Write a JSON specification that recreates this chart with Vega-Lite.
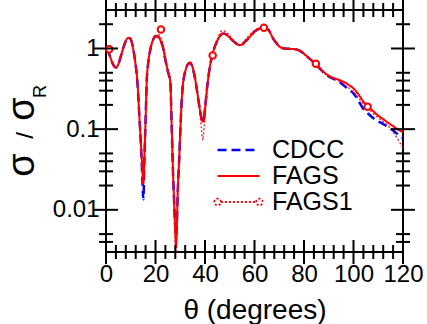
{
  "$schema": "https://vega.github.io/schema/vega-lite/v6.json",
  "width": 297,
  "height": 242,
  "autosize": "none",
  "padding": {"left": 106, "top": 10, "right": 24, "bottom": 72},
  "config": {
    "font": "Liberation Sans",
    "view": {"stroke": "black", "strokeWidth": 2},
    "axis": {"grid": false, "domain": false, "ticks": false, "labelColor": "black", "titleColor": "black", "labelFont": "Liberation Sans", "titleFont": "Liberation Sans", "titleFontWeight": "normal"}
  },
  "datasets": {
    "ticksx": [
      {"theta":0,"kind":"major"},{"theta":4,"kind":"minor"},{"theta":8,"kind":"minor"},{"theta":12,"kind":"minor"},{"theta":16,"kind":"minor"},{"theta":20,"kind":"major"},{"theta":24,"kind":"minor"},{"theta":28,"kind":"minor"},{"theta":32,"kind":"minor"},{"theta":36,"kind":"minor"},{"theta":40,"kind":"major"},{"theta":44,"kind":"minor"},{"theta":48,"kind":"minor"},{"theta":52,"kind":"minor"},{"theta":56,"kind":"minor"},{"theta":60,"kind":"major"},{"theta":64,"kind":"minor"},{"theta":68,"kind":"minor"},{"theta":72,"kind":"minor"},{"theta":76,"kind":"minor"},{"theta":80,"kind":"major"},{"theta":84,"kind":"minor"},{"theta":88,"kind":"minor"},{"theta":92,"kind":"minor"},{"theta":96,"kind":"minor"},{"theta":100,"kind":"major"},{"theta":104,"kind":"minor"},{"theta":108,"kind":"minor"},{"theta":112,"kind":"minor"},{"theta":116,"kind":"minor"},{"theta":120,"kind":"major"}
    ],
    "ticksy": [
      {"value":0.004,"kind":"minor"},{"value":0.005,"kind":"minor"},{"value":0.01,"kind":"major"},{"value":0.02,"kind":"minor"},{"value":0.03,"kind":"minor"},{"value":0.04,"kind":"minor"},{"value":0.05,"kind":"minor"},{"value":0.1,"kind":"major"},{"value":0.2,"kind":"minor"},{"value":0.3,"kind":"minor"},{"value":0.4,"kind":"minor"},{"value":0.5,"kind":"minor"},{"value":1,"kind":"major"},{"value":2,"kind":"minor"}
    ],
    "cdcc": [
      {"series":"CDCC","theta":0,"value":1.0},{"series":"CDCC","theta":1,"value":0.9},{"series":"CDCC","theta":2,"value":0.74},{"series":"CDCC","theta":3,"value":0.62},{"series":"CDCC","theta":4,"value":0.58},{"series":"CDCC","theta":5,"value":0.64},{"series":"CDCC","theta":6,"value":0.8},{"series":"CDCC","theta":7,"value":1.02},{"series":"CDCC","theta":8,"value":1.24},{"series":"CDCC","theta":9,"value":1.36},{"series":"CDCC","theta":10,"value":1.3},{"series":"CDCC","theta":11,"value":0.98},{"series":"CDCC","theta":12,"value":0.62},{"series":"CDCC","theta":12.5,"value":0.45},{"series":"CDCC","theta":13,"value":0.27},{"series":"CDCC","theta":13.5,"value":0.14},{"series":"CDCC","theta":14,"value":0.075},{"series":"CDCC","theta":14.5,"value":0.035},{"series":"CDCC","theta":15.1,"value":0.0135},{"series":"CDCC","theta":15.5,"value":0.04},{"series":"CDCC","theta":16,"value":0.13},{"series":"CDCC","theta":16.5,"value":0.42},{"series":"CDCC","theta":17,"value":0.64},{"series":"CDCC","theta":18,"value":1.0},{"series":"CDCC","theta":19,"value":1.28},{"series":"CDCC","theta":20,"value":1.42},{"series":"CDCC","theta":21,"value":1.4},{"series":"CDCC","theta":22,"value":1.26},{"series":"CDCC","theta":23,"value":1.04},{"series":"CDCC","theta":24,"value":0.72},{"series":"CDCC","theta":25,"value":0.52},{"series":"CDCC","theta":26,"value":0.38},{"series":"CDCC","theta":26.5,"value":0.12},{"series":"CDCC","theta":27,"value":0.035},{"series":"CDCC","theta":27.5,"value":0.013},{"series":"CDCC","theta":28,"value":0.006},{"series":"CDCC","theta":28.3,"value":0.0048},{"series":"CDCC","theta":28.6,"value":0.006},{"series":"CDCC","theta":29,"value":0.017},{"series":"CDCC","theta":29.6,"value":0.044},{"series":"CDCC","theta":30,"value":0.09},{"series":"CDCC","theta":30.5,"value":0.2},{"series":"CDCC","theta":31,"value":0.34},{"series":"CDCC","theta":31.5,"value":0.44},{"series":"CDCC","theta":32,"value":0.52},{"series":"CDCC","theta":33,"value":0.63},{"series":"CDCC","theta":34,"value":0.665},{"series":"CDCC","theta":35,"value":0.58},{"series":"CDCC","theta":36,"value":0.42},{"series":"CDCC","theta":37,"value":0.27},{"series":"CDCC","theta":38,"value":0.17},{"series":"CDCC","theta":39,"value":0.125},{"series":"CDCC","theta":39.4,"value":0.124},{"series":"CDCC","theta":40,"value":0.18},{"series":"CDCC","theta":41,"value":0.36},{"series":"CDCC","theta":42,"value":0.6},{"series":"CDCC","theta":43,"value":0.84},{"series":"CDCC","theta":44,"value":1.06},{"series":"CDCC","theta":45,"value":1.25},{"series":"CDCC","theta":46,"value":1.42},{"series":"CDCC","theta":47,"value":1.52},{"series":"CDCC","theta":48,"value":1.52},{"series":"CDCC","theta":49,"value":1.45},{"series":"CDCC","theta":50,"value":1.36},{"series":"CDCC","theta":51,"value":1.27},{"series":"CDCC","theta":52,"value":1.19},{"series":"CDCC","theta":53,"value":1.13},{"series":"CDCC","theta":54,"value":1.1},{"series":"CDCC","theta":55,"value":1.12},{"series":"CDCC","theta":56,"value":1.2},{"series":"CDCC","theta":57,"value":1.28},{"series":"CDCC","theta":58,"value":1.38},{"series":"CDCC","theta":59,"value":1.5},{"series":"CDCC","theta":60,"value":1.62},{"series":"CDCC","theta":61,"value":1.7},{"series":"CDCC","theta":62,"value":1.77},{"series":"CDCC","theta":63,"value":1.82},{"series":"CDCC","theta":64,"value":1.83},{"series":"CDCC","theta":65,"value":1.76},{"series":"CDCC","theta":66,"value":1.64},{"series":"CDCC","theta":67,"value":1.42},{"series":"CDCC","theta":68,"value":1.26},{"series":"CDCC","theta":69,"value":1.15},{"series":"CDCC","theta":70,"value":1.06},{"series":"CDCC","theta":71,"value":1.02},{"series":"CDCC","theta":72,"value":1.0},{"series":"CDCC","theta":74,"value":0.99},{"series":"CDCC","theta":76,"value":0.98},{"series":"CDCC","theta":78,"value":0.95},{"series":"CDCC","theta":80,"value":0.86},{"series":"CDCC","theta":82,"value":0.76},{"series":"CDCC","theta":84,"value":0.67},{"series":"CDCC","theta":86,"value":0.58},{"series":"CDCC","theta":88,"value":0.5},{"series":"CDCC","theta":90,"value":0.45},{"series":"CDCC","theta":92,"value":0.42},{"series":"CDCC","theta":94,"value":0.39},{"series":"CDCC","theta":96,"value":0.35},{"series":"CDCC","theta":98,"value":0.31},{"series":"CDCC","theta":100,"value":0.278},{"series":"CDCC","theta":102,"value":0.225},{"series":"CDCC","theta":104,"value":0.178},{"series":"CDCC","theta":106,"value":0.155},{"series":"CDCC","theta":108,"value":0.137},{"series":"CDCC","theta":110,"value":0.125},{"series":"CDCC","theta":112,"value":0.116},{"series":"CDCC","theta":114,"value":0.106},{"series":"CDCC","theta":116,"value":0.096},{"series":"CDCC","theta":118,"value":0.086},{"series":"CDCC","theta":120,"value":0.077}
    ],
    "fags": [
      {"series":"FAGS","theta":0,"value":1.0},{"series":"FAGS","theta":1,"value":0.9},{"series":"FAGS","theta":2,"value":0.74},{"series":"FAGS","theta":3,"value":0.62},{"series":"FAGS","theta":4,"value":0.58},{"series":"FAGS","theta":5,"value":0.64},{"series":"FAGS","theta":6,"value":0.8},{"series":"FAGS","theta":7,"value":1.02},{"series":"FAGS","theta":8,"value":1.24},{"series":"FAGS","theta":9,"value":1.36},{"series":"FAGS","theta":10,"value":1.3},{"series":"FAGS","theta":11,"value":0.98},{"series":"FAGS","theta":12,"value":0.62},{"series":"FAGS","theta":12.5,"value":0.45},{"series":"FAGS","theta":13,"value":0.27},{"series":"FAGS","theta":13.5,"value":0.14},{"series":"FAGS","theta":14,"value":0.075},{"series":"FAGS","theta":14.5,"value":0.04},{"series":"FAGS","theta":15.1,"value":0.021},{"series":"FAGS","theta":15.5,"value":0.045},{"series":"FAGS","theta":16,"value":0.13},{"series":"FAGS","theta":16.5,"value":0.42},{"series":"FAGS","theta":17,"value":0.64},{"series":"FAGS","theta":18,"value":1.0},{"series":"FAGS","theta":19,"value":1.28},{"series":"FAGS","theta":20,"value":1.42},{"series":"FAGS","theta":21,"value":1.4},{"series":"FAGS","theta":22,"value":1.26},{"series":"FAGS","theta":23,"value":1.04},{"series":"FAGS","theta":24,"value":0.72},{"series":"FAGS","theta":25,"value":0.52},{"series":"FAGS","theta":26,"value":0.38},{"series":"FAGS","theta":26.5,"value":0.12},{"series":"FAGS","theta":27,"value":0.035},{"series":"FAGS","theta":27.5,"value":0.013},{"series":"FAGS","theta":28,"value":0.005},{"series":"FAGS","theta":28.3,"value":0.0035},{"series":"FAGS","theta":28.6,"value":0.006},{"series":"FAGS","theta":29,"value":0.017},{"series":"FAGS","theta":29.6,"value":0.044},{"series":"FAGS","theta":30,"value":0.09},{"series":"FAGS","theta":30.5,"value":0.2},{"series":"FAGS","theta":31,"value":0.34},{"series":"FAGS","theta":31.5,"value":0.44},{"series":"FAGS","theta":32,"value":0.52},{"series":"FAGS","theta":33,"value":0.63},{"series":"FAGS","theta":34,"value":0.665},{"series":"FAGS","theta":35,"value":0.58},{"series":"FAGS","theta":36,"value":0.42},{"series":"FAGS","theta":37,"value":0.27},{"series":"FAGS","theta":38,"value":0.17},{"series":"FAGS","theta":39,"value":0.125},{"series":"FAGS","theta":39.4,"value":0.124},{"series":"FAGS","theta":40,"value":0.18},{"series":"FAGS","theta":41,"value":0.36},{"series":"FAGS","theta":42,"value":0.6},{"series":"FAGS","theta":43,"value":0.84},{"series":"FAGS","theta":44,"value":1.06},{"series":"FAGS","theta":45,"value":1.25},{"series":"FAGS","theta":46,"value":1.42},{"series":"FAGS","theta":47,"value":1.52},{"series":"FAGS","theta":48,"value":1.52},{"series":"FAGS","theta":49,"value":1.45},{"series":"FAGS","theta":50,"value":1.36},{"series":"FAGS","theta":51,"value":1.27},{"series":"FAGS","theta":52,"value":1.19},{"series":"FAGS","theta":53,"value":1.13},{"series":"FAGS","theta":54,"value":1.1},{"series":"FAGS","theta":55,"value":1.12},{"series":"FAGS","theta":56,"value":1.2},{"series":"FAGS","theta":57,"value":1.28},{"series":"FAGS","theta":58,"value":1.38},{"series":"FAGS","theta":59,"value":1.5},{"series":"FAGS","theta":60,"value":1.62},{"series":"FAGS","theta":61,"value":1.7},{"series":"FAGS","theta":62,"value":1.77},{"series":"FAGS","theta":63,"value":1.82},{"series":"FAGS","theta":64,"value":1.83},{"series":"FAGS","theta":65,"value":1.76},{"series":"FAGS","theta":66,"value":1.64},{"series":"FAGS","theta":67,"value":1.42},{"series":"FAGS","theta":68,"value":1.26},{"series":"FAGS","theta":69,"value":1.15},{"series":"FAGS","theta":70,"value":1.06},{"series":"FAGS","theta":71,"value":1.02},{"series":"FAGS","theta":72,"value":1.0},{"series":"FAGS","theta":74,"value":0.99},{"series":"FAGS","theta":76,"value":0.98},{"series":"FAGS","theta":78,"value":0.95},{"series":"FAGS","theta":80,"value":0.86},{"series":"FAGS","theta":82,"value":0.76},{"series":"FAGS","theta":84,"value":0.67},{"series":"FAGS","theta":86,"value":0.59},{"series":"FAGS","theta":88,"value":0.51},{"series":"FAGS","theta":90,"value":0.46},{"series":"FAGS","theta":92,"value":0.43},{"series":"FAGS","theta":94,"value":0.41},{"series":"FAGS","theta":96,"value":0.385},{"series":"FAGS","theta":98,"value":0.355},{"series":"FAGS","theta":100,"value":0.32},{"series":"FAGS","theta":102,"value":0.27},{"series":"FAGS","theta":104,"value":0.22},{"series":"FAGS","theta":106,"value":0.19},{"series":"FAGS","theta":108,"value":0.167},{"series":"FAGS","theta":110,"value":0.147},{"series":"FAGS","theta":112,"value":0.133},{"series":"FAGS","theta":114,"value":0.12},{"series":"FAGS","theta":116,"value":0.109},{"series":"FAGS","theta":118,"value":0.099},{"series":"FAGS","theta":120,"value":0.091}
    ],
    "fags1": [
      {"series":"FAGS1","theta":0,"value":1.0},{"series":"FAGS1","theta":1,"value":0.9},{"series":"FAGS1","theta":2,"value":0.74},{"series":"FAGS1","theta":3,"value":0.62},{"series":"FAGS1","theta":4,"value":0.58},{"series":"FAGS1","theta":5,"value":0.64},{"series":"FAGS1","theta":6,"value":0.8},{"series":"FAGS1","theta":7,"value":1.02},{"series":"FAGS1","theta":8,"value":1.24},{"series":"FAGS1","theta":9,"value":1.36},{"series":"FAGS1","theta":10,"value":1.3},{"series":"FAGS1","theta":11,"value":0.98},{"series":"FAGS1","theta":12,"value":0.62},{"series":"FAGS1","theta":12.5,"value":0.45},{"series":"FAGS1","theta":13,"value":0.27},{"series":"FAGS1","theta":13.5,"value":0.14},{"series":"FAGS1","theta":14,"value":0.075},{"series":"FAGS1","theta":14.5,"value":0.04},{"series":"FAGS1","theta":15.1,"value":0.021},{"series":"FAGS1","theta":15.5,"value":0.045},{"series":"FAGS1","theta":16,"value":0.13},{"series":"FAGS1","theta":16.5,"value":0.42},{"series":"FAGS1","theta":17,"value":0.64},{"series":"FAGS1","theta":18,"value":1.0},{"series":"FAGS1","theta":19,"value":1.3},{"series":"FAGS1","theta":20,"value":1.45},{"series":"FAGS1","theta":21,"value":1.5},{"series":"FAGS1","theta":22,"value":1.4},{"series":"FAGS1","theta":23,"value":1.14},{"series":"FAGS1","theta":24,"value":0.8},{"series":"FAGS1","theta":25,"value":0.55},{"series":"FAGS1","theta":26,"value":0.38},{"series":"FAGS1","theta":26.5,"value":0.12},{"series":"FAGS1","theta":27,"value":0.035},{"series":"FAGS1","theta":27.5,"value":0.012},{"series":"FAGS1","theta":28,"value":0.004},{"series":"FAGS1","theta":28.3,"value":0.002},{"series":"FAGS1","theta":28.6,"value":0.005},{"series":"FAGS1","theta":29,"value":0.016},{"series":"FAGS1","theta":29.6,"value":0.044},{"series":"FAGS1","theta":30,"value":0.09},{"series":"FAGS1","theta":30.5,"value":0.2},{"series":"FAGS1","theta":31,"value":0.33},{"series":"FAGS1","theta":31.5,"value":0.43},{"series":"FAGS1","theta":32,"value":0.51},{"series":"FAGS1","theta":33,"value":0.62},{"series":"FAGS1","theta":34,"value":0.66},{"series":"FAGS1","theta":35,"value":0.6},{"series":"FAGS1","theta":36,"value":0.45},{"series":"FAGS1","theta":37,"value":0.28},{"series":"FAGS1","theta":38,"value":0.15},{"series":"FAGS1","theta":38.5,"value":0.105},{"series":"FAGS1","theta":39.1,"value":0.073},{"series":"FAGS1","theta":39.7,"value":0.11},{"series":"FAGS1","theta":40.4,"value":0.2},{"series":"FAGS1","theta":41,"value":0.33},{"series":"FAGS1","theta":42,"value":0.6},{"series":"FAGS1","theta":43,"value":0.84},{"series":"FAGS1","theta":44,"value":1.08},{"series":"FAGS1","theta":45,"value":1.32},{"series":"FAGS1","theta":46,"value":1.55},{"series":"FAGS1","theta":47,"value":1.66},{"series":"FAGS1","theta":48,"value":1.64},{"series":"FAGS1","theta":49,"value":1.56},{"series":"FAGS1","theta":50,"value":1.44},{"series":"FAGS1","theta":51,"value":1.32},{"series":"FAGS1","theta":52,"value":1.22},{"series":"FAGS1","theta":53,"value":1.15},{"series":"FAGS1","theta":54,"value":1.12},{"series":"FAGS1","theta":55,"value":1.15},{"series":"FAGS1","theta":56,"value":1.25},{"series":"FAGS1","theta":57,"value":1.36},{"series":"FAGS1","theta":58,"value":1.47},{"series":"FAGS1","theta":59,"value":1.58},{"series":"FAGS1","theta":60,"value":1.68},{"series":"FAGS1","theta":61,"value":1.75},{"series":"FAGS1","theta":62,"value":1.8},{"series":"FAGS1","theta":63,"value":1.84},{"series":"FAGS1","theta":64,"value":1.85},{"series":"FAGS1","theta":65,"value":1.79},{"series":"FAGS1","theta":66,"value":1.66},{"series":"FAGS1","theta":67,"value":1.44},{"series":"FAGS1","theta":68,"value":1.27},{"series":"FAGS1","theta":69,"value":1.16},{"series":"FAGS1","theta":70,"value":1.07},{"series":"FAGS1","theta":71,"value":1.03},{"series":"FAGS1","theta":72,"value":1.01},{"series":"FAGS1","theta":74,"value":1.0},{"series":"FAGS1","theta":76,"value":0.99},{"series":"FAGS1","theta":78,"value":0.95},{"series":"FAGS1","theta":80,"value":0.85},{"series":"FAGS1","theta":82,"value":0.75},{"series":"FAGS1","theta":84,"value":0.66},{"series":"FAGS1","theta":86,"value":0.57},{"series":"FAGS1","theta":88,"value":0.5},{"series":"FAGS1","theta":90,"value":0.45},{"series":"FAGS1","theta":92,"value":0.42},{"series":"FAGS1","theta":94,"value":0.395},{"series":"FAGS1","theta":96,"value":0.36},{"series":"FAGS1","theta":98,"value":0.325},{"series":"FAGS1","theta":100,"value":0.29},{"series":"FAGS1","theta":102,"value":0.245},{"series":"FAGS1","theta":104,"value":0.205},{"series":"FAGS1","theta":106,"value":0.178},{"series":"FAGS1","theta":108,"value":0.155},{"series":"FAGS1","theta":110,"value":0.138},{"series":"FAGS1","theta":112,"value":0.124},{"series":"FAGS1","theta":114,"value":0.11},{"series":"FAGS1","theta":116,"value":0.092},{"series":"FAGS1","theta":118,"value":0.074},{"series":"FAGS1","theta":120,"value":0.058}
    ],
    "markers": [
      {"series":"FAGS1","theta":1.3,"value":0.98},{"series":"FAGS1","theta":22.2,"value":1.72},{"series":"FAGS1","theta":43.1,"value":0.82},{"series":"FAGS1","theta":63.8,"value":1.81},{"series":"FAGS1","theta":84.8,"value":0.645},{"series":"FAGS1","theta":105.7,"value":0.19}
    ]
  },
  "resolve": {"axis": {"x": "independent", "y": "independent"}},
  "layer": [
    {
      "data": {"name": "cdcc"},
      "mark": {"type": "line", "interpolate": "monotone", "clip": true, "strokeWidth": 2.5},
      "encoding": {
        "x": {"field": "theta", "type": "quantitative", "scale": {"domain": [0, 120], "nice": false, "zero": false},
          "axis": {"orient": "bottom", "values": [0, 20, 40, 60, 80, 100, 120],
            "labelPadding": 10.5, "labelFontSize": 24, "labelFlush": false, "labelOverlap": false, "labelAlign": "center",
            "title": "θ (degrees)", "titleFontSize": 28, "titleX": 148.5, "titleY": 66.7, "titleBaseline": "alphabetic", "titleAlign": "center"}},
        "y": {"field": "value", "type": "quantitative", "scale": {"type": "log", "domain": [0.003, 3], "nice": false},
          "axis": {"orient": "left", "values": [0.01, 0.1, 1],
            "labelExpr": "datum.value === 0.01 ? '0.01' : datum.value === 0.1 ? '0.1' : '1'",
            "labelPadding": 7, "labelFontSize": 24, "labelOverlap": false, "labelFlush": false, "labelBaseline": "middle",
            "title": "σ", "titleFontSize": 38, "titleAngle": -90, "titleX": -73, "titleY": 154.5, "titleBaseline": "alphabetic", "titleAlign": "center"}},
        "color": {"field": "series", "type": "nominal", "scale": {"domain": ["CDCC", "FAGS", "FAGS1"], "range": ["#0000ff", "#ff0000", "#ff0000"]},
          "legend": {"title": null, "orient": "none", "legendX": 120, "legendY": 127.5, "padding": 0, "rowPadding": 0, "symbolSize": 484, "labelFontSize": 25, "labelFont": "Liberation Sans", "labelColor": "black", "labelOffset": 21,
            "encode": {"symbols": {"update": {
              "shape": {"signal": "datum.label === 'FAGS1' ? 'M-1.6,0L1.6,0M-2.2,0A0.3,0.3 0 1,1 -1.6,0A0.3,0.3 0 1,1 -2.2,0M1.6,0A0.3,0.3 0 1,1 2.2,0A0.3,0.3 0 1,1 1.6,0' : 'M-1.909,0L1.909,0'"},
              "strokeWidth": {"signal": "datum.label === 'CDCC' ? 2.5 : datum.label === 'FAGS' ? 2 : 1.8"},
              "strokeDash": {"signal": "datum.label === 'CDCC' ? [14,7] : datum.label === 'FAGS1' ? [1.6,1] : [1,0]"},
              "fill": {"value": "white"}, "opacity": {"value": 1}}}}}},
        "strokeDash": {"field": "series", "type": "nominal", "scale": {"domain": ["CDCC", "FAGS", "FAGS1"], "range": [[9, 5], [1, 0], [2, 2]]},
          "legend": {"title": null, "orient": "none", "legendX": 120, "legendY": 127.5, "padding": 0, "rowPadding": 0, "symbolSize": 484, "labelFontSize": 25, "labelFont": "Liberation Sans", "labelColor": "black", "labelOffset": 21,
            "encode": {"symbols": {"update": {
              "shape": {"signal": "datum.label === 'FAGS1' ? 'M-1.6,0L1.6,0M-2.2,0A0.3,0.3 0 1,1 -1.6,0A0.3,0.3 0 1,1 -2.2,0M1.6,0A0.3,0.3 0 1,1 2.2,0A0.3,0.3 0 1,1 1.6,0' : 'M-1.909,0L1.909,0'"},
              "strokeWidth": {"signal": "datum.label === 'CDCC' ? 2.5 : datum.label === 'FAGS' ? 2 : 1.8"},
              "strokeDash": {"signal": "datum.label === 'CDCC' ? [14,7] : datum.label === 'FAGS1' ? [1.6,1] : [1,0]"},
              "fill": {"value": "white"}, "opacity": {"value": 1}}}}}}
      }
    },
    {
      "data": {"name": "fags1"},
      "mark": {"type": "line", "interpolate": "monotone", "clip": true, "strokeWidth": 1.2},
      "encoding": {
        "x": {"field": "theta", "type": "quantitative", "axis": null},
        "y": {"field": "value", "type": "quantitative",
          "axis": {"orient": "right", "labels": false, "title": "/", "titleFontSize": 24, "titleAngle": -90, "titleX": -370.5, "titleY": 125, "titleBaseline": "alphabetic", "titleAlign": "center"}},
        "color": {"field": "series", "type": "nominal", "legend": null},
        "strokeDash": {"field": "series", "type": "nominal", "legend": null}
      }
    },
    {
      "data": {"name": "fags"},
      "mark": {"type": "line", "interpolate": "monotone", "clip": true, "strokeWidth": 2},
      "encoding": {
        "x": {"field": "theta", "type": "quantitative",
          "axis": {"orient": "bottom", "labels": false, "title": "σ", "titleFontSize": 38, "titleAngle": -90, "titleX": -73, "titleY": -143.5, "titleBaseline": "alphabetic", "titleAlign": "center"}},
        "y": {"field": "value", "type": "quantitative",
          "axis": {"orient": "left", "labels": false, "title": "R", "titleFontSize": 18, "titleAngle": -90, "titleX": -61, "titleY": 81, "titleBaseline": "alphabetic", "titleAlign": "center"}},
        "color": {"field": "series", "type": "nominal", "legend": null},
        "strokeDash": {"field": "series", "type": "nominal", "legend": null}
      }
    },
    {
      "data": {"name": "markers"},
      "mark": {"type": "point", "shape": "circle", "filled": false, "fill": "white", "stroke": "#ff0000", "strokeWidth": 2, "size": 42, "opacity": 1},
      "encoding": {
        "x": {"field": "theta", "type": "quantitative", "axis": null},
        "y": {"field": "value", "type": "quantitative", "axis": null}
      }
    },
    {
      "data": {"name": "ticksx"},
      "mark": {"type": "tick", "orient": "vertical", "thickness": 2, "color": "#000000", "opacity": 1, "clip": false},
      "encoding": {
        "x": {"field": "theta", "type": "quantitative", "axis": null},
        "y": {"datum": 0.003, "type": "quantitative", "axis": null},
        "size": {"condition": {"test": "datum.kind === 'major'", "value": 24}, "value": 14}
      }
    },
    {
      "data": {"name": "ticksx"},
      "mark": {"type": "tick", "orient": "vertical", "thickness": 2, "color": "#000000", "opacity": 1, "clip": false},
      "encoding": {
        "x": {"field": "theta", "type": "quantitative", "axis": null},
        "y": {"datum": 3, "type": "quantitative", "axis": null},
        "size": {"condition": {"test": "datum.kind === 'major'", "value": 24}, "value": 14}
      }
    },
    {
      "data": {"name": "ticksy"},
      "mark": {"type": "tick", "orient": "horizontal", "thickness": 2, "color": "#000000", "opacity": 1, "clip": false},
      "encoding": {
        "y": {"field": "value", "type": "quantitative", "axis": null},
        "x": {"datum": 0, "type": "quantitative", "axis": null},
        "size": {"condition": {"test": "datum.kind === 'major'", "value": 24}, "value": 14}
      }
    },
    {
      "data": {"name": "ticksy"},
      "mark": {"type": "tick", "orient": "horizontal", "thickness": 2, "color": "#000000", "opacity": 1, "clip": false},
      "encoding": {
        "y": {"field": "value", "type": "quantitative", "axis": null},
        "x": {"datum": 120, "type": "quantitative", "axis": null},
        "size": {"condition": {"test": "datum.kind === 'major'", "value": 24}, "value": 14}
      }
    }
  ]
}
